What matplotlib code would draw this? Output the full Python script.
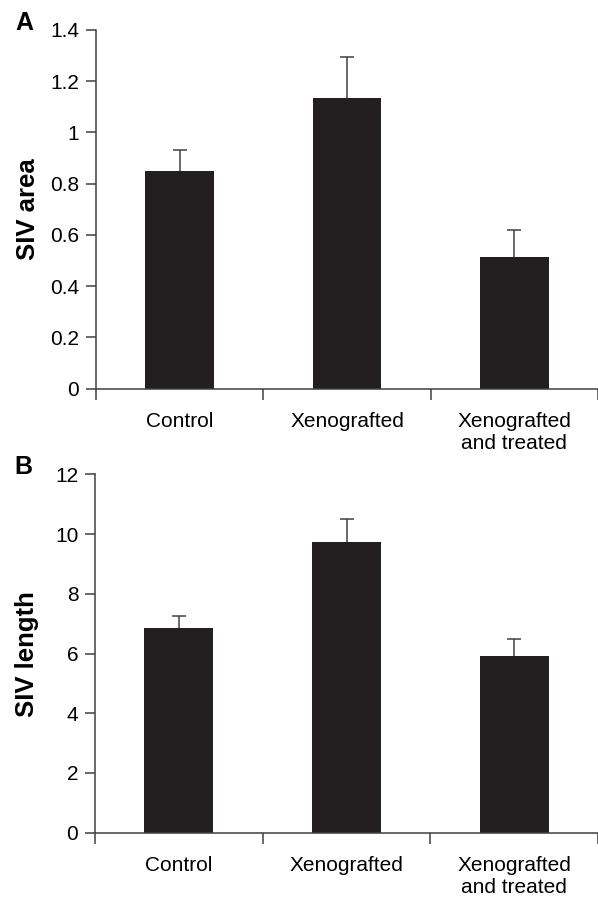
import matplotlib.pyplot as plt
import numpy as np

plt.rcParams['font.family'] = ['Liberation Sans', 'DejaVu Sans']

categories = ['Control', 'Xenografted', 'Xenografted\nand treated']
area = [0.85, 1.135, 0.513]
area_err = [0.08, 0.16, 0.108]
length = [6.85, 9.72, 5.91]
length_err = [0.42, 0.79, 0.58]

bar_color = '#231f20'
line_color = '#404040'

fig = plt.figure(figsize=(5.98, 8.98), dpi=100)
axA = fig.add_axes([96/598, 0.5672, 1 - 96/598, 0.3994])
axB = fig.add_axes([95/598, 0.0727, 1 - 95/598, 0.3990])


def draw(ax, vals, errs, ylim, step, ylabel, letter):
    x = np.arange(len(vals))
    ax.bar(x, vals, width=0.41, color=bar_color, zorder=2)
    eb = ax.errorbar(x, vals, yerr=[np.zeros(len(vals)), errs], fmt='none',
                     ecolor=line_color, elinewidth=1.1, capsize=5, capthick=1.1, zorder=1)
    eb[1][0].set_visible(False)  # no cap at the bar top
    ax.set_xlim(-0.5, (598 - 96) / 171 - 0.5)
    ax.set_ylim(*ylim)
    ticks = np.arange(0, ylim[1] + step / 2, step)
    ax.set_yticks(ticks)
    ax.set_yticklabels(['%g' % t for t in ticks])
    ax.set_xticks(x)
    ax.set_xticklabels(categories)
    ax.set_xticks([-0.5, 0.5, 1.5, 2.5], minor=True)
    ax.tick_params(axis='x', which='major', length=0, pad=17, labelsize=15)
    ax.tick_params(axis='x', which='minor', length=8, width=1.1, color=line_color)
    ax.tick_params(axis='y', length=7, width=1.1, color=line_color, labelsize=15, pad=5)
    for s in ['top', 'right']:
        ax.spines[s].set_visible(False)
    for s in ['left', 'bottom']:
        ax.spines[s].set_color(line_color)
        ax.spines[s].set_linewidth(1.1)
    ax.set_ylabel(ylabel, fontsize=18.5, fontweight='bold')
    ax.yaxis.set_label_coords(-0.112, 0.5)
    ax.text(-0.125, 1.02, letter, transform=ax.transAxes, fontsize=18,
            fontweight='bold', ha='right', va='center')


draw(axA, area, area_err, (0, 1.4), 0.2, 'SIV area', 'A')
draw(axB, length, length_err, (0, 12), 2, 'SIV length', 'B')

fig.savefig('out.png', dpi=100)
